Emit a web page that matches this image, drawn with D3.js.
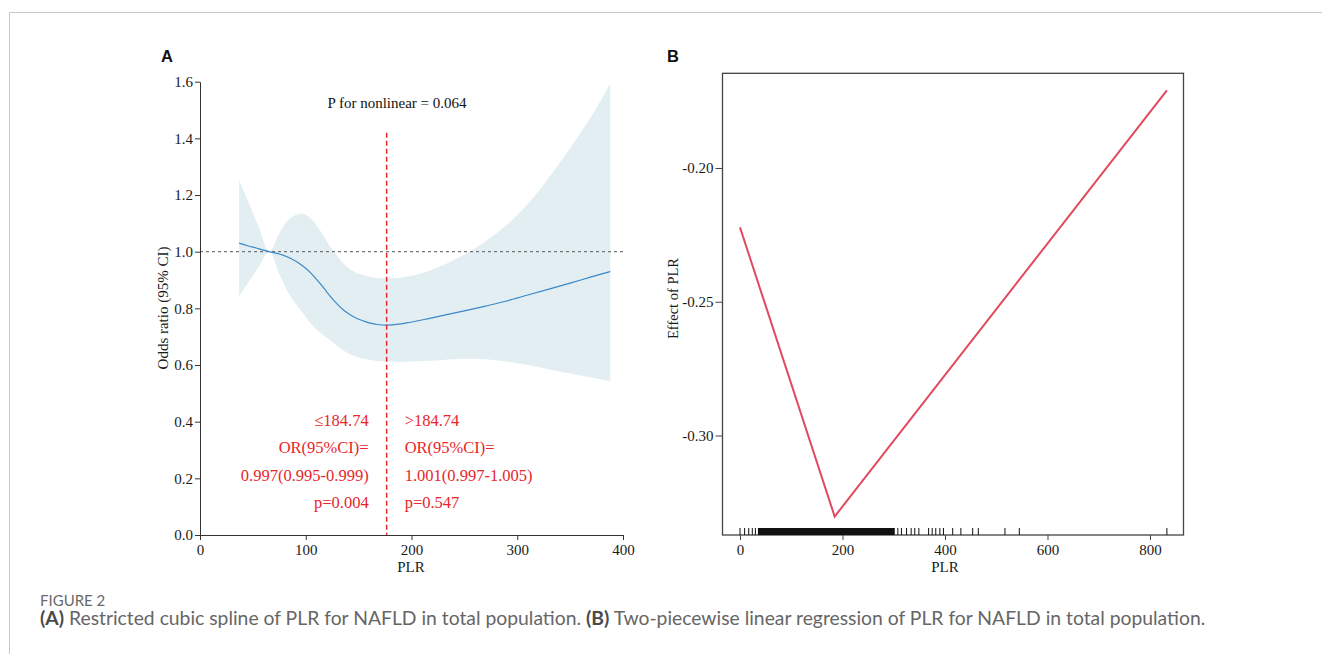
<!DOCTYPE html>
<html>
<head>
<meta charset="utf-8">
<script src="https://cdn.jsdelivr.net/npm/d3@7"></script>
<style>
  body { margin: 0; background: #fff; }
  svg { display: block; }
</style>
</head>
<body>
<div id="app"></div>
<script>
// ---- panel A: restricted cubic spline ----
const plrA = [37, 45, 55, 65.5, 75, 85, 96, 104, 110, 117, 123, 130, 136, 142, 148, 155, 161, 168, 176.5, 188, 199, 215, 230, 250, 270, 290, 310, 330, 350, 370, 388]
const orA = [1.030, 1.021, 1.011, 1.000, 0.992, 0.978, 0.953, 0.928, 0.903, 0.872, 0.843, 0.814, 0.793, 0.777, 0.765, 0.755, 0.748, 0.743, 0.741, 0.744, 0.751, 0.763, 0.775, 0.791, 0.808, 0.826, 0.847, 0.868, 0.889, 0.911, 0.930]
const upperA = [1.253, 1.182, 1.093, 1.000, 1.065, 1.118, 1.135, 1.120, 1.094, 1.055, 1.018, 0.985, 0.957, 0.938, 0.925, 0.917, 0.911, 0.907, 0.906, 0.908, 0.914, 0.930, 0.953, 0.990, 1.037, 1.094, 1.168, 1.262, 1.366, 1.477, 1.594]
const lowerA = [0.844, 0.888, 0.943, 1.000, 0.920, 0.845, 0.790, 0.750, 0.725, 0.705, 0.687, 0.666, 0.650, 0.638, 0.629, 0.622, 0.618, 0.614, 0.612, 0.611, 0.612, 0.615, 0.618, 0.622, 0.620, 0.612, 0.600, 0.585, 0.570, 0.556, 0.544]
const xTicksA = [0, 100, 200, 300, 400]
const yTicksA = [0, 0.2, 0.4, 0.6, 0.8, 1.0, 1.2, 1.4, 1.6]
const refOR = 1.0
const cutX = 176.5
const cutTop = 1.42
const pNonlinear = "P for nonlinear = 0.064"
const leftNotes = ["≤184.74", "OR(95%CI)=", "0.997(0.995-0.999)", "p=0.004"]
const rightNotes = [">184.74", "OR(95%CI)=", "1.001(0.997-1.005)", "p=0.547"]

// ---- panel B: two-piecewise linear regression ----
const plrB = [0, 184.74, 833]
const effectB = [-0.2222, -0.3303, -0.1710]
const rugB = [0, 9, 17, 24, 30, 308, 315, 325, 334, 341, 349, 368, 375, 382, 390, 397, 415, 431, 454, 465, 517, 545, 833]
const rugDenseB = [35, 302]
const xTicksB = [0, 200, 400, 600, 800]
const yTicksB = [-0.30, -0.25, -0.20]

const W = 1322, H = 654
const serif = "'Liberation Serif', 'Times New Roman', serif"

const svg = d3.select("#app").append("svg")
    .attr("width", W)
    .attr("height", H)

// page frame
svg.append("path")
    .attr("d", `M9.5,${H} V12.5 H${W}`)
    .attr("fill", "none")
    .attr("stroke", "#c8c8c8")

// ================= Panel A =================
const xA = d3.scaleLinear().domain([0, 400]).range([200, 623])
const yA = d3.scaleLinear().domain([0, 1.6]).range([535, 81.7])

const gA = svg.append("g")

const rowsA = plrA.map((x, i) => ({ x, or: orA[i], lo: lowerA[i], hi: upperA[i] }))

gA.append("path")
    .datum(rowsA)
    .attr("fill", "#e3eef3")
    .attr("d", d3.area()
        .curve(d3.curveCatmullRom.alpha(0.5))
        .x(d => xA(d.x))
        .y0(d => yA(d.lo))
        .y1(d => yA(d.hi)))

gA.append("line")
    .attr("x1", xA(0)).attr("x2", xA(400) + 1)
    .attr("y1", yA(refOR)).attr("y2", yA(refOR))
    .attr("stroke", "#555")
    .attr("stroke-width", 1)
    .attr("stroke-dasharray", "3,3")

gA.append("path")
    .datum(rowsA)
    .attr("fill", "none")
    .attr("stroke", "#3a88c8")
    .attr("stroke-width", 1.2)
    .attr("d", d3.line()
        .curve(d3.curveMonotoneX)
        .x(d => xA(d.x))
        .y(d => yA(d.or)))

gA.append("line")
    .attr("x1", xA(cutX)).attr("x2", xA(cutX))
    .attr("y1", yA(cutTop)).attr("y2", yA(0))
    .attr("stroke", "#e8262b")
    .attr("stroke-width", 1.5)
    .attr("stroke-dasharray", "5,3")

const axA = (g) => g
    .attr("font-family", serif)
    .attr("font-size", 15)
    .call(g => g.select(".domain").attr("stroke", "#333"))
    .call(g => g.selectAll(".tick line").attr("stroke", "#333"))
    .call(g => g.selectAll(".tick text").attr("fill", "#1a1a1a"))

gA.append("g")
    .attr("transform", `translate(0,${yA(0)})`)
    .call(d3.axisBottom(xA).tickValues(xTicksA).tickSize(5).tickPadding(4).tickSizeOuter(0))
    .call(axA)

gA.append("g")
    .attr("transform", `translate(${xA(0)},0)`)
    .call(d3.axisLeft(yA).tickValues(yTicksA).tickFormat(d3.format(".1f")).tickSize(5).tickPadding(2).tickSizeOuter(0))
    .call(axA)

gA.append("text")
    .attr("x", 397).attr("y", 108)
    .attr("text-anchor", "middle")
    .attr("font-family", serif).attr("font-size", 15).attr("fill", "#111")
    .text(pNonlinear)

const noteY = [426, 453, 480.5, 508]
gA.selectAll(".noteL").data(leftNotes).join("text")
    .attr("x", xA(cutX) - 18).attr("y", (d, i) => noteY[i])
    .attr("text-anchor", "end")
    .attr("font-family", serif).attr("font-size", 16.5).attr("fill", "#e8262b")
    .text(d => d)
gA.selectAll(".noteR").data(rightNotes).join("text")
    .attr("x", xA(cutX) + 18).attr("y", (d, i) => noteY[i])
    .attr("text-anchor", "start")
    .attr("font-family", serif).attr("font-size", 16.5).attr("fill", "#e8262b")
    .text(d => d)

gA.append("text")
    .attr("x", 411).attr("y", 572)
    .attr("text-anchor", "middle")
    .attr("font-family", serif).attr("font-size", 15).attr("fill", "#1a1a1a")
    .text("PLR")

gA.append("text")
    .attr("transform", `translate(168,308) rotate(-90)`)
    .attr("text-anchor", "middle")
    .attr("font-family", serif).attr("font-size", 15).attr("fill", "#1a1a1a")
    .text("Odds ratio (95% CI)")

gA.append("text")
    .attr("x", 161).attr("y", 62)
    .attr("font-family", "'Liberation Sans', Arial, sans-serif")
    .attr("font-weight", "bold").attr("font-size", 16.5).attr("fill", "#111")
    .text("A")

// ================= Panel B =================
const xB = d3.scaleLinear().domain([-34.15, 865.4]).range([722.5, 1183.5])
const yB = d3.scaleLinear().domain([-0.3372, -0.1646]).range([535, 73.3])

const gB = svg.append("g")

gB.append("rect")
    .attr("x", xB.range()[0]).attr("y", yB.range()[1])
    .attr("width", xB.range()[1] - xB.range()[0])
    .attr("height", yB.range()[0] - yB.range()[1])
    .attr("fill", "none")
    .attr("stroke", "#444")
    .attr("stroke-width", 1.3)

// rug
gB.append("rect")
    .attr("x", xB(rugDenseB[0])).attr("y", yB.range()[0] - 7)
    .attr("width", xB(rugDenseB[1]) - xB(rugDenseB[0]))
    .attr("height", 7)
    .attr("fill", "#111")
gB.selectAll(".rug").data(rugB).join("line")
    .attr("x1", d => xB(d)).attr("x2", d => xB(d))
    .attr("y1", yB.range()[0] - 7).attr("y2", yB.range()[0])
    .attr("stroke", "#111")
    .attr("stroke-width", 1)

gB.append("path")
    .datum(plrB.map((x, i) => [x, effectB[i]]))
    .attr("fill", "none")
    .attr("stroke", "#e04a5f")
    .attr("stroke-width", 2)
    .attr("d", d3.line().x(d => xB(d[0])).y(d => yB(d[1])))

const axB = (g) => g
    .attr("font-family", serif)
    .attr("font-size", 15)
    .call(g => g.select(".domain").remove())
    .call(g => g.selectAll(".tick line").attr("stroke", "#444"))
    .call(g => g.selectAll(".tick text").attr("fill", "#1a1a1a"))

gB.append("g")
    .attr("transform", `translate(0,${yB.range()[0]})`)
    .call(d3.axisBottom(xB).tickValues(xTicksB).tickSize(5).tickPadding(4))
    .call(axB)

gB.append("g")
    .attr("transform", `translate(${xB.range()[0]},0)`)
    .call(d3.axisLeft(yB).tickValues(yTicksB).tickFormat(d => d3.format(".2f")(d).replace("−", "-")).tickSize(7).tickPadding(2))
    .call(axB)

gB.append("text")
    .attr("x", xB(400)).attr("y", 572)
    .attr("text-anchor", "middle")
    .attr("font-family", serif).attr("font-size", 15).attr("fill", "#1a1a1a")
    .text("PLR")

gB.append("text")
    .attr("transform", `translate(678,298.5) rotate(-90)`)
    .attr("text-anchor", "middle")
    .attr("font-family", serif).attr("font-size", 14.5).attr("fill", "#1a1a1a")
    .text("Effect of PLR")

gB.append("text")
    .attr("x", 667).attr("y", 62)
    .attr("font-family", "'Liberation Sans', Arial, sans-serif")
    .attr("font-weight", "bold").attr("font-size", 16.5).attr("fill", "#111")
    .text("B")

// ================= caption =================
const capFont = "Lato, 'Open Sans', sans-serif"
svg.append("text")
    .attr("x", 40).attr("y", 605.5)
    .attr("font-family", capFont).attr("font-size", 15).attr("fill", "#6a6a6a")
    .text("FIGURE 2")

const cap = svg.append("text")
    .attr("x", 40).attr("y", 625)
    .attr("font-family", capFont).attr("font-size", 17).attr("fill", "#666")
cap.append("tspan").attr("font-weight", "bold").attr("fill", "#4a4a4a").text("(A)")
cap.append("tspan").text(" Restricted cubic spline of PLR for NAFLD in total population. ")
cap.append("tspan").attr("font-weight", "bold").attr("fill", "#4a4a4a").text("(B)")
cap.append("tspan").text(" Two-piecewise linear regression of PLR for NAFLD in total population.")
// fit caption to the measured width in the figure
const capLen = cap.node().getComputedTextLength()
cap.attr("font-size", 17 * 1166 / capLen)
</script>
</body>
</html>
